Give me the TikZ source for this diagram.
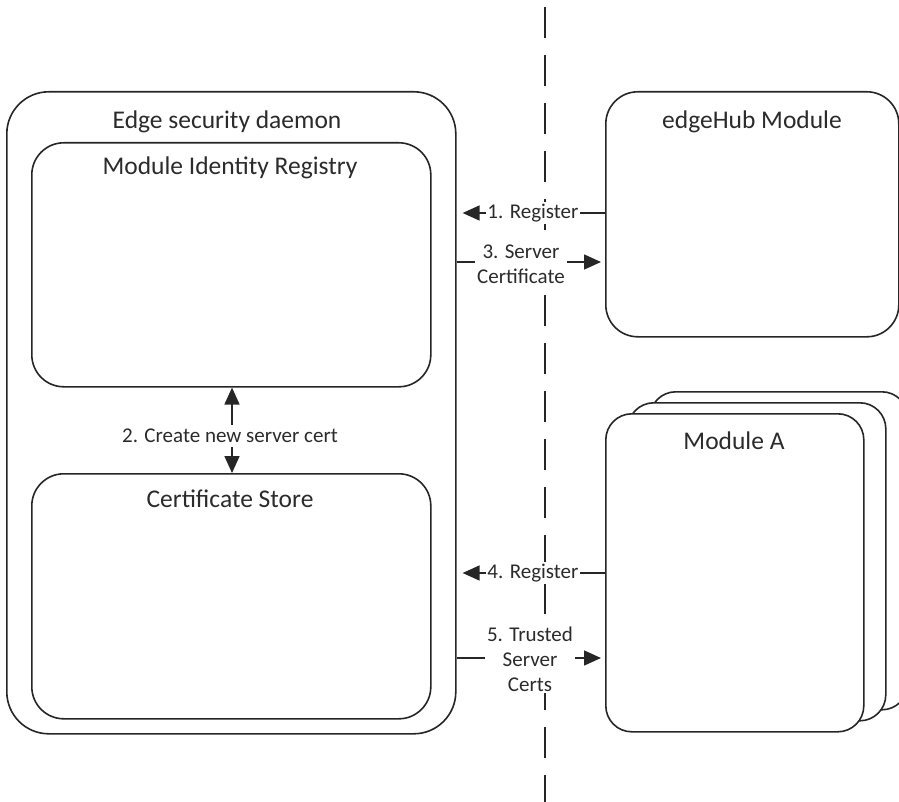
\documentclass[tikz,border=0pt]{standalone}
\usepackage{fontspec}
\setmainfont{Carlito}
\usetikzlibrary{arrows.meta,calc}
\definecolor{txt}{HTML}{2B2B2B}
\begin{document}
\begin{tikzpicture}[x=1pt,y=-1pt,
  box/.style={draw=black!85,line width=1.6pt,fill=white,rectangle,inner sep=0pt,anchor=north west},
  title/.style={text=txt,font=\fontsize{25.5}{30}\selectfont,inner sep=0pt},
  lbl/.style={text=txt,font=\fontsize{21}{25}\selectfont,fill=white,inner sep=1.5pt,align=center},
  arr/.style={draw=black!85,line width=1.6pt,-{Triangle[length=17pt,width=15pt]}},
  darr/.style={draw=black!85,line width=1.6pt,{Triangle[length=17pt,width=15pt]}-{Triangle[length=17pt,width=15pt]}},
  sep/.style={draw=black!85,line width=1.6pt,dash pattern=on 31pt off 17pt}]
\useasboundingbox (0,0) rectangle (899,802);
\clip (0,0) rectangle (899,802);
% separator
\coordinate (st) at (545,7);
\coordinate (sb) at (545,802);
\draw[sep] (st) -- (sb);
% left side
\node[box,rounded corners=42pt,minimum width=449pt,minimum height=642pt] (outer) at (6,91) {};
\node[box,rounded corners=32pt,minimum width=399pt,minimum height=244pt] (mir) at (31,142) {};
\node[box,rounded corners=32pt,minimum width=399pt,minimum height=245pt] (cs) at (31,473) {};
\node[title] (tOuter) at (227,122) {Edge security daemon};
\node[title] (tMir) at (230,168) {Module Identity Registry};
\node[title] (tCs) at (230,499) {Certificate Store};
% right side
\node[box,rounded corners=32pt,minimum width=293pt,minimum height=245pt] (hub) at (605,91) {};
\node[title] (tHub) at (752,122) {edgeHub Module};
\node[box,rounded corners=26pt,minimum width=258pt,minimum height=318pt] (modC) at (649,391) {};
\node[box,rounded corners=26pt,minimum width=258pt,minimum height=318pt] (modB) at (627,402) {};
\node[box,rounded corners=26pt,minimum width=258pt,minimum height=318pt] (modA) at (605,413) {};
\node[title] (tModA) at (734,441) {Module A};
% labels
\coordinate (y1) at (0,213);
\coordinate (y3) at (0,262);
\coordinate (y4) at (0,573);
\coordinate (y5) at (0,658);
\draw[arr,shorten >=6pt] (hub.west |- y1) -- (outer.east |- y1);
\draw[arr,shorten >=4pt] (outer.east |- y3) -- (hub.west |- y3);
\draw[arr,shorten >=6pt] (modA.west |- y4) -- (outer.east |- y4);
\draw[arr,shorten >=4pt] (outer.east |- y5) -- (modA.west |- y5);
\draw[darr] (mir.south -| 232,0) -- (cs.north -| 232,0);
\node[lbl] (l1) at (533,213) {1. Register};
\node[lbl,inner sep=2pt] (l3) at (521,264) {3. Server\\Certificate};
\node[lbl] (l4) at (533,573) {4. Register};
\node[lbl,inner sep=2pt] (l5) at (530,659) {5. Trusted\\Server\\Certs};
\node[lbl,inner sep=4pt] (l2) at (230,436) {2. Create new server cert};
\end{tikzpicture}
\end{document}
